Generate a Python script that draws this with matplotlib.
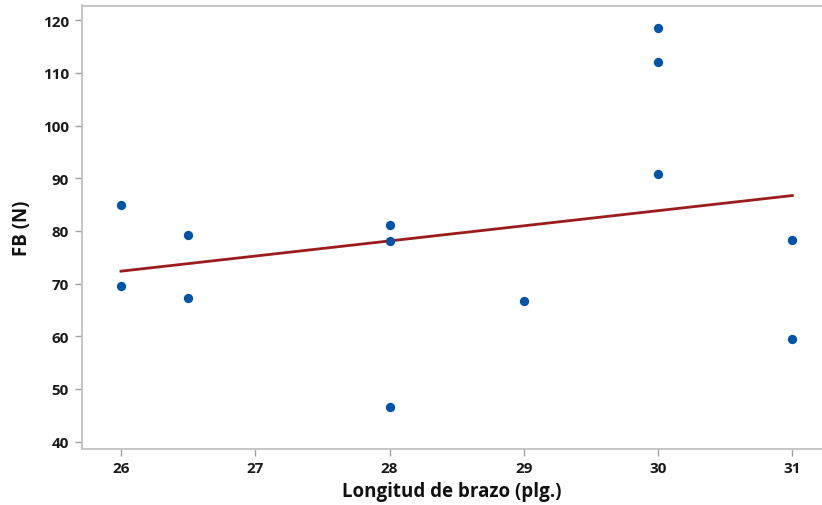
import numpy as np
import matplotlib
matplotlib.use("Agg")
import matplotlib.pyplot as plt

# Data
arm_length = [26, 26, 26.5, 26.5, 28, 28, 28, 29, 30, 30, 30, 31, 31]
fb_values = [85.0, 69.5, 79.3, 67.2, 81.2, 78.1, 46.6, 66.7, 118.5, 112.0, 90.9, 78.2, 59.4]
x_ticks = [26, 27, 28, 29, 30, 31]
y_ticks = [40, 50, 60, 70, 80, 90, 100, 110, 120]
x_label = "Longitud de brazo (plg.)"
y_label = "FB (N)"

plt.rcParams['font.family'] = ['Open Sans', 'DejaVu Sans']

W, H = 822, 506
fig = plt.figure(figsize=(W / 100, H / 100), dpi=100)
left_px, right_px, top_px, bottom_px = 81.5, 822, 6.5, 449.5
ax = fig.add_axes([left_px / W, (H - bottom_px) / H,
                   (right_px - left_px) / W, (bottom_px - top_px) / H])

x = np.array(arm_length)
y = np.array(fb_values)
slope, intercept = np.polyfit(x, y, 1)
xs = np.array([x.min(), x.max()])
ax.plot(xs, intercept + slope * xs, color='#9B1C1C', lw=2.0, zorder=2)
ax.scatter(x, y, s=45, color='#0054A6', zorder=3, linewidths=0)

ax.set_xlim(25.706, 31.221)
ax.set_ylim(38.7, 122.8)
ax.set_xticks(x_ticks)
ax.set_yticks(y_ticks)

for side in ['left', 'bottom', 'top']:
    ax.spines[side].set_color('#C0C0C0')
    ax.spines[side].set_linewidth(1.3)
ax.spines['right'].set_visible(False)

ax.tick_params(axis='both', direction='out', length=5, width=1, color='#A0A0A0',
               labelsize=11, labelcolor='#1A1A1A', pad=4)
for lbl in ax.get_xticklabels() + ax.get_yticklabels():
    lbl.set_fontweight('bold')

ax.set_xlabel(x_label, fontsize=13.5, fontweight='bold', color='#111111', labelpad=4)
ax.set_ylabel(y_label, fontsize=13.5, fontweight='bold', color='#111111', labelpad=8)

fig.savefig('out.png', dpi=100)
